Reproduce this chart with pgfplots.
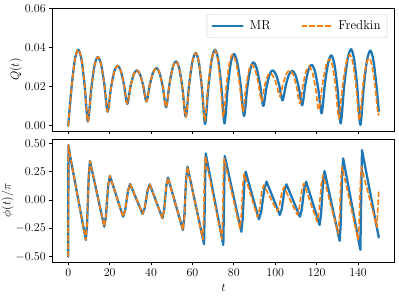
\documentclass[border=0pt]{standalone}
\usepackage{pgfplots}
\pgfplotsset{compat=1.18}
\definecolor{tabblue}{RGB}{31,119,180}
\definecolor{taborange}{RGB}{255,127,14}
\begin{document}
\begin{tikzpicture}
\useasboundingbox (0,0) rectangle (399pt,299pt);
\pgfplotsset{
  myax/.style={scale only axis, width=341.6pt, xmin=-7.5, xmax=157.5,
    xtick={0,20,...,140}, tick align=outside, xtick pos=bottom, ytick pos=left,
    major tick length=3.5pt, axis line style={line width=0.8pt, black},
    every tick/.style={black, line width=0.8pt},
    tick label style={font=\fontsize{11.6}{13}\selectfont},
    xlabel style={font=\fontsize{13}{15}\selectfont},
    yticklabel style={/pgf/number format/fixed, /pgf/number format/fixed zerofill, /pgf/number format/precision=2},
    scaled y ticks=false},
  mr/.style={tabblue, line width=2.3pt, line join=round, line cap=round},
  fr/.style={taborange, line width=1.6pt, line join=round, dash pattern=on 5.5pt off 2.4pt},
}
\begin{axis}[myax, at={(52.7pt,168pt)}, anchor=south west, height=122.7pt,
  ymin=-0.0027, ymax=0.0602, ytick={0,0.02,0.04,0.06}, xticklabels={},
  ylabel={$Q(t)$},
  every axis y label/.style={at={(axis description cs:-0.1077,0.5)}, rotate=90, anchor=center, font=\fontsize{13}{15}\selectfont},
  legend columns=2, legend cell align=left,
  legend image code/.code={\draw[#1] (0pt,0pt) -- (30pt,0pt);},
  legend style={at={(0.9795,0.9535)}, anchor=north east, draw=black!20, rounded corners=2pt,
    fill=white, fill opacity=0.8, text opacity=1, inner xsep=4.5pt, inner ysep=4.5pt,
    font=\fontsize{13}{15}\selectfont,
    /tikz/every odd column/.append style={column sep=4pt},
    /tikz/every even column/.append style={column sep=28pt}}]
\addplot[mr, smooth] coordinates {(0,0) (1.6,0.0195) (3.2,0.0338) (4.8,0.0390) (6.37,0.0341) (7.93,0.0206) (9.5,0.0021) (11.1,0.0187) (12.7,0.0309) (14.3,0.0353) (15.87,0.0315) (17.43,0.0213) (19.0,0.0072) (20.6,0.0190) (22.2,0.0276) (23.8,0.0308) (25.37,0.0282) (26.93,0.0210) (28.5,0.0112) (30.03,0.0198) (31.57,0.0261) (33.1,0.0284) (34.67,0.0263) (36.23,0.0204) (37.8,0.0124) (39.4,0.0210) (41.0,0.0273) (42.6,0.0296) (44.17,0.0269) (45.73,0.0196) (47.3,0.0095) (48.9,0.0213) (50.5,0.0299) (52.1,0.0330) (53.67,0.0292) (55.23,0.0188) (56.8,0.0046) (58.4,0.0210) (60.0,0.0329) (61.6,0.0373) (63.1,0.0324) (64.6,0.0191) (66.1,0.0009) (67.7,0.0200) (69.3,0.0339) (70.9,0.0390) (72.43,0.0339) (73.97,0.0201) (75.5,0.0012) (77.0,0.0190) (78.5,0.0320) (80.0,0.0368) (81.63,0.0325) (83.27,0.0209) (84.9,0.0050) (86.4,0.0188) (87.9,0.0288) (89.4,0.0325) (91.0,0.0295) (92.6,0.0214) (94.2,0.0102) (95.7,0.0193) (97.2,0.0260) (98.7,0.0284) (100.3,0.0263) (101.9,0.0207) (103.5,0.0130) (105.07,0.0206) (106.63,0.0262) (108.2,0.0282) (109.8,0.0258) (111.4,0.0194) (113.0,0.0105) (114.5,0.0209) (116.0,0.0285) (117.5,0.0313) (119.13,0.0280) (120.77,0.0189) (122.4,0.0064) (123.97,0.0213) (125.53,0.0321) (127.1,0.0361) (128.6,0.0314) (130.1,0.0187) (131.6,0.0012) (133.27,0.0202) (134.93,0.0341) (136.6,0.0392) (138.1,0.0340) (139.6,0.0198) (141.1,0.0004) (142.7,0.0195) (144.3,0.0334) (145.9,0.0385) (147.4,0.0336) (148.9,0.0203) (150.0,0.0075)};
\addlegendentry{MR}
\addplot[fr, smooth] coordinates {(0,0) (1.6,0.0195) (3.2,0.0338) (4.8,0.0390) (6.37,0.0341) (7.93,0.0206) (9.5,0.0021) (11.1,0.0187) (12.7,0.0309) (14.3,0.0353) (15.87,0.0315) (17.43,0.0213) (19.0,0.0072) (20.6,0.0190) (22.2,0.0276) (23.8,0.0308) (25.37,0.0282) (26.93,0.0210) (28.5,0.0112) (30.03,0.0198) (31.57,0.0261) (33.1,0.0284) (34.67,0.0263) (36.23,0.0204) (37.8,0.0124) (39.4,0.0210) (41.0,0.0273) (42.6,0.0296) (44.17,0.0269) (45.73,0.0196) (47.3,0.0095) (48.9,0.0213) (50.5,0.0299) (52.1,0.0330) (53.67,0.0292) (55.23,0.0188) (56.8,0.0046) (58.4,0.0210) (60.0,0.0329) (61.6,0.0373) (63.07,0.0327) (64.53,0.0200) (66.0,0.0026) (67.6,0.0207) (69.2,0.0339) (70.8,0.0388) (72.17,0.0342) (73.53,0.0217) (74.9,0.0046) (76.37,0.0205) (77.83,0.0321) (79.3,0.0364) (81.0,0.0325) (82.7,0.0218) (84.4,0.0072) (85.8,0.0193) (87.2,0.0281) (88.6,0.0313) (90.2,0.0288) (91.8,0.0219) (93.4,0.0124) (94.73,0.0197) (96.07,0.0250) (97.4,0.0270) (99.0,0.0254) (100.6,0.0210) (102.2,0.0150) (103.8,0.0217) (105.4,0.0266) (107.0,0.0284) (108.63,0.0261) (110.27,0.0200) (111.9,0.0115) (113.4,0.0210) (114.9,0.0279) (116.4,0.0304) (117.93,0.0274) (119.47,0.0193) (121.0,0.0081) (122.77,0.0212) (124.53,0.0307) (126.3,0.0342) (127.77,0.0301) (129.23,0.0190) (130.7,0.0038) (132.47,0.0201) (134.23,0.0320) (136.0,0.0364) (137.53,0.0319) (139.07,0.0197) (140.6,0.0029) (142.17,0.0188) (143.73,0.0304) (145.3,0.0347) (146.73,0.0309) (148.17,0.0205) (149.6,0.0062) (150.0,0.0067)};
\addlegendentry{Fredkin}
\end{axis}
\begin{axis}[myax, at={(52.7pt,37pt)}, anchor=south west, height=123pt,
  ymin=-0.547, ymax=0.538, ytick={-0.5,-0.25,0,0.25,0.5},
  xlabel={$t$}, ylabel={$\phi(t)/\pi$},
  every axis y label/.style={at={(axis description cs:-0.1323,0.5)}, rotate=90, anchor=center, font=\fontsize{13}{15}\selectfont}]
\addplot[mr] coordinates {(0,-0.500) (0.1,0.485) (0.95,0.385) (8.5,-0.353) (9.1,-0.214) (9.9,0.205) (10.5,0.344) (17.4,-0.235) (18.21,-0.145) (19.29,0.124) (20.1,0.214) (26.5,-0.147) (27.52,-0.089) (28.88,0.083) (29.9,0.141) (35.9,-0.123) (36.95,-0.071) (38.35,0.086) (39.4,0.138) (45.5,-0.162) (46.31,-0.090) (47.39,0.125) (48.2,0.197) (55.4,-0.265) (56.06,-0.153) (56.94,0.182) (57.6,0.294) (65.6,-0.390) (66.0,0.010) (66.4,0.410) (74.9,-0.397) (75.25,-0.005) (75.6,0.388) (83.6,-0.280) (84.23,-0.174) (85.07,0.144) (85.7,0.250) (92.1,-0.170) (93.21,-0.104) (94.69,0.096) (95.8,0.162) (102.2,-0.132) (103.16,-0.078) (104.44,0.084) (105.4,0.138) (111.9,-0.147) (112.8,-0.085) (114.0,0.100) (114.9,0.162) (121.4,-0.220) (122.12,-0.125) (123.08,0.160) (123.8,0.255) (131.1,-0.360) (131.61,-0.215) (132.29,0.222) (132.8,0.367) (141.1,-0.440) (141.5,0.000) (141.9,0.440) (150.0,-0.330)};
\addplot[fr] coordinates {(0,-0.500) (0.1,0.485) (0.95,0.385) (8.5,-0.353) (9.1,-0.214) (9.9,0.205) (10.5,0.344) (17.4,-0.235) (18.21,-0.145) (19.29,0.124) (20.1,0.214) (26.5,-0.147) (27.52,-0.089) (28.88,0.083) (29.9,0.141) (35.9,-0.123) (36.95,-0.071) (38.35,0.086) (39.4,0.138) (45.5,-0.162) (46.31,-0.090) (47.39,0.125) (48.2,0.197) (55.4,-0.265) (56.06,-0.153) (56.94,0.182) (57.6,0.294) (65.0,-0.350) (65.36,-0.203) (65.84,0.238) (66.2,0.385) (74.2,-0.345) (74.53,-0.203) (74.97,0.223) (75.3,0.365) (82.9,-0.250) (83.53,-0.154) (84.37,0.136) (85.0,0.232) (91.4,-0.150) (92.3,-0.094) (93.5,0.076) (94.4,0.132) (101.0,-0.100) (101.96,-0.057) (103.24,0.072) (104.2,0.115) (110.6,-0.130) (111.56,-0.075) (112.84,0.092) (113.8,0.147) (120.2,-0.190) (121.07,-0.108) (122.23,0.138) (123.1,0.220) (130.4,-0.294) (130.97,-0.176) (131.73,0.176) (132.3,0.294) (140.0,-0.350) (140.48,-0.221) (141.12,0.165) (141.6,0.294) (149.1,-0.240) (150.0,0.085)};
\end{axis}
\end{tikzpicture}
\end{document}
